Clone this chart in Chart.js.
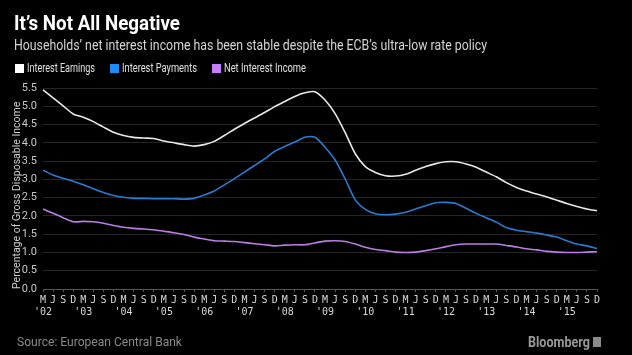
<!DOCTYPE html>
<html><head><meta charset="utf-8">
<script src="https://cdn.jsdelivr.net/npm/chart.js@4/dist/chart.umd.min.js"></script>
<style>
html,body{margin:0;padding:0;background:#000;}
#wrap{position:relative;width:632px;height:355px;overflow:hidden;background:#000;font-family:Roboto,"Liberation Sans",sans-serif;}
#c{position:absolute;left:0;top:0;}
.fit{display:inline-block;transform-origin:0 50%;white-space:nowrap;}
.t{position:absolute;left:14px;top:12px;font-size:19.5px;font-weight:bold;color:#fff;line-height:24px;}
.s{position:absolute;left:14px;top:36px;font-size:15px;color:#d4d4d4;line-height:18px;}
.lg{position:absolute;left:15px;top:61px;display:flex;font-size:12px;color:#e0e0e0;line-height:14px;white-space:nowrap;}
.lg .it{display:flex;align-items:center;}
.lg .b{display:inline-block;width:9px;height:9px;margin-right:3px;}
.src{position:absolute;left:17px;top:334px;font-size:13px;color:#8a8a8a;line-height:16px;}
.bb{position:absolute;left:528px;top:333px;font-size:15px;color:#9a9a9a;font-weight:bold;line-height:18px;}
.ic{position:absolute;left:593px;top:337px;width:8px;height:10px;background:#8a8a8a;}
</style>
</head><body>
<div id="wrap">
<canvas id="c" width="632" height="355"></canvas>
<div class="t"><span class="fit" data-w="166">It’s Not All Negative</span></div>
<div class="s"><span class="fit" data-w="473">Households’ net interest income has been stable despite the ECB’s ultra-low rate policy</span></div>
<div class="lg" id="legend"></div>
<div class="src"><span class="fit" data-w="165">Source: European Central Bank</span></div>
<div class="bb"><span class="fit" data-w="62">Bloomberg</span></div>
<div class="ic"></div>
</div>
<script>
// Quarter-month letters and year labels
const months = ['M', 'J', 'S', 'D'];
const years = ["'02","'03","'04","'05","'06","'07","'08","'09","'10","'11","'12","'13","'14","'15"];
const yTicks = [0, 0.5, 1, 1.5, 2, 2.5, 3, 3.5, 4, 4.5, 5, 5.5];

const seriesNames = ['Interest Earnings', 'Interest Payments', 'Net Interest Income'];
const seriesColors = ['#e8e8e8', '#2a7bd2', '#b97ee6'];
const legendColors = ['#ffffff', '#1f8cf5', '#c77dff'];
const legendTextWidths = [68, 75, 82];

const interestEarnings = [
  5.45, 5.23, 5.01, 4.79, 4.70, 4.58, 4.43, 4.29, 4.20, 4.15, 4.13, 4.12, 4.05, 4.00,
  3.95, 3.91, 3.95, 4.04, 4.20, 4.37, 4.53, 4.68, 4.83, 4.99, 5.13, 5.27, 5.37, 5.40,
  5.17, 4.80, 4.28, 3.70, 3.35, 3.19, 3.10, 3.09, 3.14, 3.25, 3.35, 3.43, 3.48, 3.48,
  3.42, 3.33, 3.20, 3.07, 2.91, 2.78, 2.68, 2.60, 2.52, 2.43, 2.34, 2.26, 2.19, 2.14
];
const interestPayments = [
  3.25, 3.12, 3.03, 2.95, 2.85, 2.74, 2.64, 2.56, 2.51, 2.48, 2.48, 2.47, 2.47, 2.47,
  2.46, 2.48, 2.57, 2.68, 2.85, 3.02, 3.20, 3.38, 3.56, 3.77, 3.90, 4.02, 4.15, 4.15,
  3.88, 3.53, 3.01, 2.44, 2.18, 2.06, 2.03, 2.05, 2.10, 2.19, 2.28, 2.36, 2.37, 2.34,
  2.21, 2.07, 1.95, 1.83, 1.68, 1.61, 1.57, 1.53, 1.48, 1.42, 1.32, 1.23, 1.18, 1.11
];
const netInterestIncome = [
  2.19, 2.07, 1.95, 1.84, 1.85, 1.84, 1.80, 1.74, 1.69, 1.66, 1.64, 1.62, 1.58, 1.54,
  1.49, 1.42, 1.37, 1.32, 1.31, 1.30, 1.27, 1.24, 1.21, 1.18, 1.20, 1.21, 1.21, 1.26,
  1.31, 1.32, 1.30, 1.23, 1.14, 1.08, 1.05, 1.01, 1.00, 1.01, 1.05, 1.10, 1.16, 1.21,
  1.23, 1.23, 1.23, 1.23, 1.19, 1.15, 1.10, 1.07, 1.03, 1.01, 1.00, 1.00, 1.01, 1.02
];

const labels = [];
years.forEach(y => months.forEach((m, k) => labels.push(k === 0 ? [m, y] : [m])));

const seriesData = [interestEarnings, interestPayments, netInterestIncome];

// HTML legend
const lg = document.getElementById('legend');
seriesNames.forEach((n, i) => {
  const it = document.createElement('div'); it.className = 'it';
  if (i > 0) it.style.marginLeft = '15px';
  const b = document.createElement('span'); b.className = 'b'; b.style.background = legendColors[i];
  const t = document.createElement('span'); t.className = 'fit'; t.textContent = n;
  t.dataset.w = legendTextWidths[i]; t.dataset.m = '1';
  it.appendChild(b); it.appendChild(t); lg.appendChild(it);
});

function fitAll() {
  document.querySelectorAll('.fit').forEach(el => {
    el.style.transform = 'none'; el.style.marginRight = '0px';
    const w = el.getBoundingClientRect().width;
    const target = +el.dataset.w;
    if (w > 0) {
      el.style.transform = 'scaleX(' + (target / w) + ')';
      if (el.dataset.m) el.style.marginRight = (target - w) + 'px';
    }
  });
}
fitAll();
if (document.fonts && document.fonts.ready) document.fonts.ready.then(fitAll);

const sans = 'Roboto, "Liberation Sans", sans-serif';

new Chart(document.getElementById('c'), {
  type: 'line',
  data: {
    labels: labels,
    datasets: seriesNames.map((n, i) => ({
      label: n,
      data: seriesData[i],
      borderColor: seriesColors[i],
      backgroundColor: seriesColors[i],
      borderWidth: 1.6,
      pointRadius: 0,
      tension: 0.25,
      fill: false
    }))
  },
  options: {
    responsive: false,
    animation: false,
    events: [],
    layout: { padding: { top: 88, right: 35, bottom: 36, left: 0 } },
    plugins: { legend: { display: false }, tooltip: { enabled: false }, title: { display: false } },
    scales: {
      x: {
        type: 'category',
        offset: false,
        afterFit: s => { s.height = 30; },
        grid: { display: true, drawOnChartArea: false, drawTicks: true, tickLength: 3, color: '#555' },
        border: { display: true, color: '#555' },
        ticks: {
          autoSkip: false, maxRotation: 0, minRotation: 0, padding: 2,
          color: '#d8d8d8',
          font: { family: '"DejaVu Sans Mono", monospace', size: 10, lineHeight: 1.2 }
        }
      },
      y: {
        min: 0, max: 5.5,
        afterFit: s => { s.width = 43; },
        afterBuildTicks: s => { s.ticks = yTicks.map(v => ({ value: v })); },
        grid: { color: '#262626', drawTicks: false, lineWidth: 1 },
        border: { display: false },
        ticks: {
          padding: 6, color: '#c8c8c8',
          font: { family: sans, size: 11 },
          callback: v => Number(v).toFixed(1)
        },
        title: {
          display: true, text: 'Percentage of Gross Disposable Income',
          align: 'start', color: '#cfcfcf',
          font: { family: sans, size: 10.5 },
          padding: { top: 11, bottom: 0 }
        }
      }
    }
  }
});
</script>
</body></html>
